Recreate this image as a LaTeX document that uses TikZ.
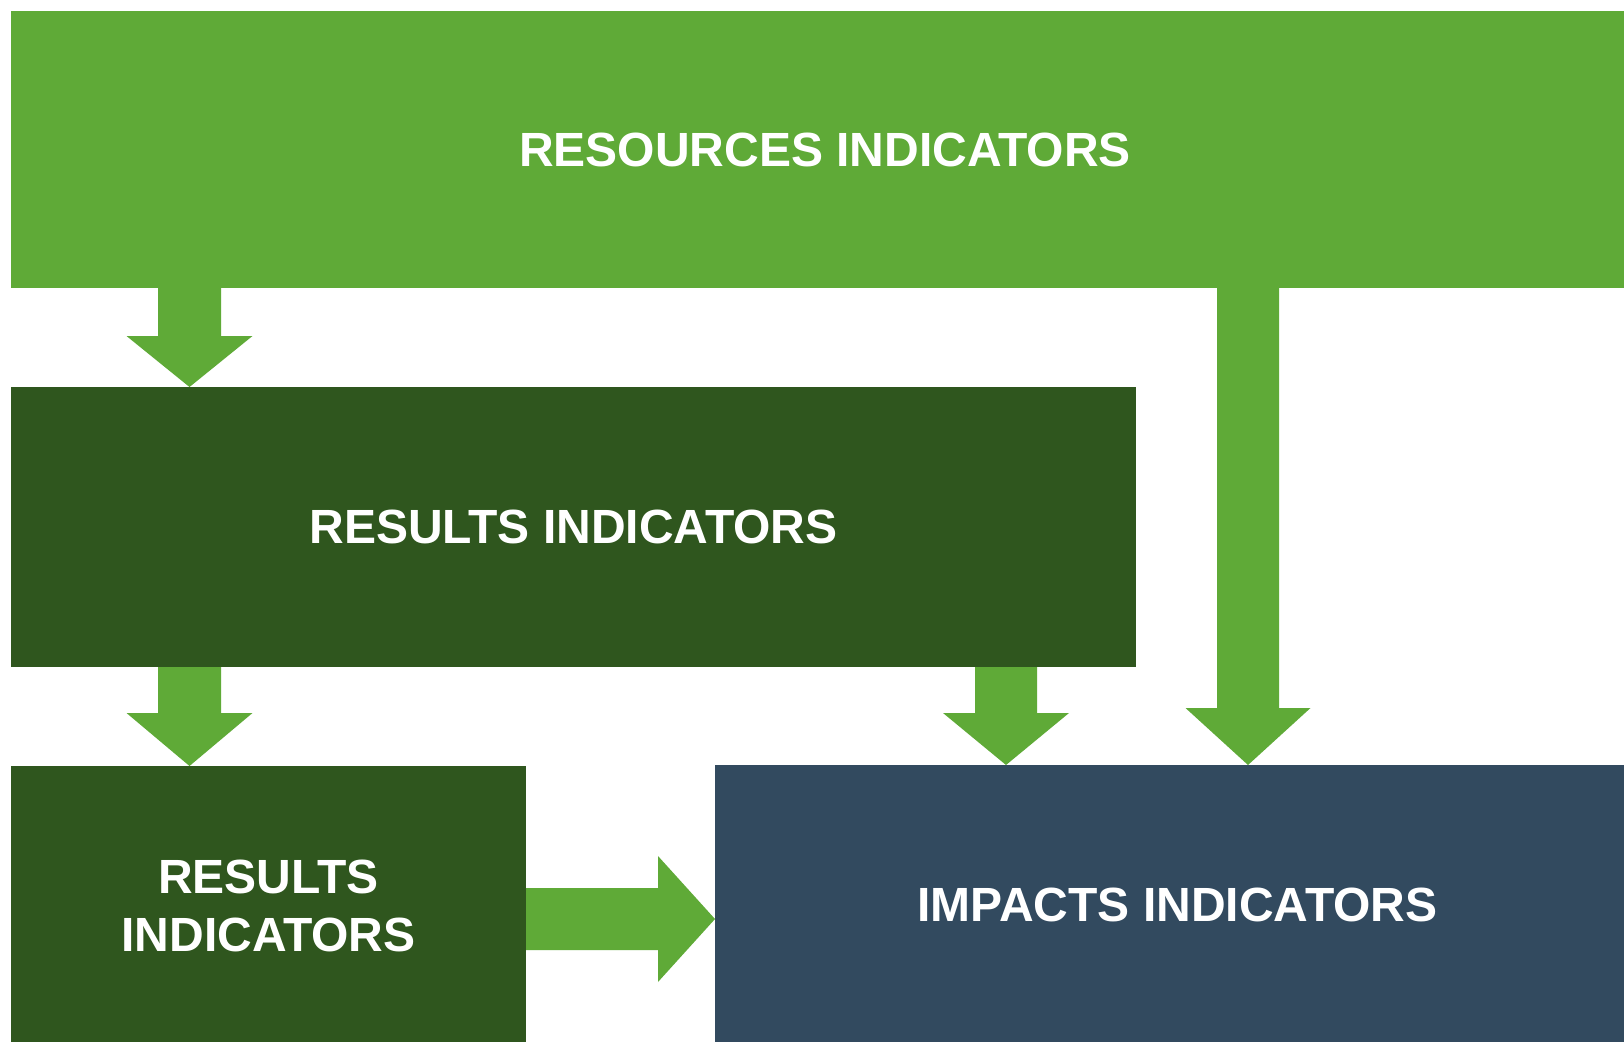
\documentclass[tikz,border=0pt]{standalone}
\usepackage{fontspec}
\setmainfont{Liberation Sans}
\usetikzlibrary{calc}
\definecolor{lgreen}{RGB}{95,170,55}
\definecolor{dgreen}{RGB}{47,86,30}
\definecolor{navy}{RGB}{50,74,95}
\tikzset{
  box/.style={rectangle, inner sep=0pt, outer sep=0pt, text=white, align=center,
    font=\fontsize{48}{58}\selectfont\bfseries},
  blockarrow/.style={fill=lgreen, draw=none}
}
% vertical block arrow: #1 start, #2 tip, #3 head length, #4 half shaft, #5 half head
\newcommand\vblockarrow[5]{%
  \fill[blockarrow] let \p1=(#1), \p2=(#2) in
    (\x1-#4pt,\y1) -- (\x1+#4pt,\y1) -- (\x1+#4pt,\y2+#3pt) -- (\x1+#5pt,\y2+#3pt)
    -- (\x1,\y2) -- (\x1-#5pt,\y2+#3pt) -- (\x1-#4pt,\y2+#3pt) -- cycle;}
% horizontal block arrow
\newcommand\hblockarrow[5]{%
  \fill[blockarrow] let \p1=(#1), \p2=(#2) in
    (\x1,\y1+#4pt) -- (\x1,\y1-#4pt) -- (\x2-#3pt,\y1-#4pt) -- (\x2-#3pt,\y1-#5pt)
    -- (\x2,\y1) -- (\x2-#3pt,\y1+#5pt) -- (\x2-#3pt,\y1+#4pt) -- cycle;}
\begin{document}
\begin{tikzpicture}[x=1pt,y=-1pt]
\useasboundingbox[fill=white] (0,0) rectangle (1624,1041);
\node[box, fill=lgreen, minimum width=1613pt, minimum height=277pt] (res) at (817.5,149.5) {\hspace*{15pt}RESOURCES INDICATORS};
\node[box, fill=dgreen, minimum width=1125pt, minimum height=280pt] (rsl) at (573.5,527) {RESULTS INDICATORS};
\node[box, fill=dgreen, minimum width=515pt, minimum height=280pt] (rsl2) at (268.5,906) {RESULTS\\INDICATORS};
\node[box, fill=navy, minimum width=909pt, minimum height=280pt] (imp) at (1169.5,905) {\hspace*{16pt}IMPACTS INDICATORS};

\coordinate (a1) at ($(res.south west)+(178.5,0)$);
\vblockarrow{a1}{a1 |- rsl.north}{51}{31.5}{63}
\coordinate (a2) at ($(rsl.south west)+(178.5,0)$);
\vblockarrow{a2}{a2 |- rsl2.north}{53}{31.5}{63}
\coordinate (a3) at ($(rsl.south west)+(995,0)$);
\vblockarrow{a3}{a3 |- imp.north}{52}{31}{63}
\coordinate (a4) at ($(res.south west)+(1237,0)$);
\vblockarrow{a4}{a4 |- imp.north}{57}{31}{62.5}
\coordinate (a5) at ($(rsl2.north east)+(0,153)$);
\hblockarrow{a5}{a5 -| imp.west}{57}{31}{63}
\end{tikzpicture}
\end{document}
